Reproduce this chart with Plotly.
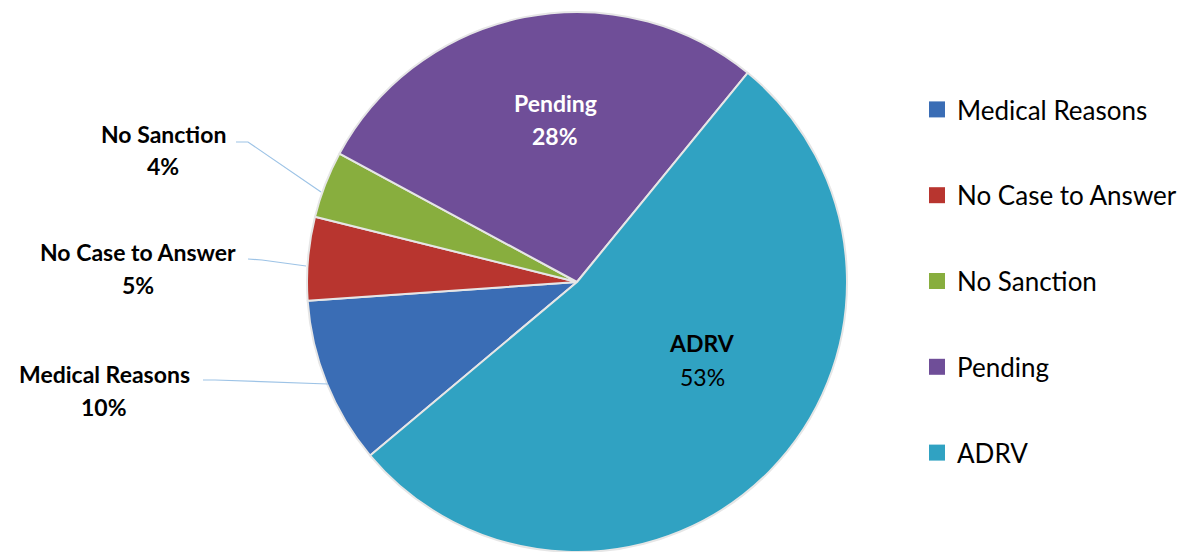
import plotly.graph_objects as go

W, H = 1189, 552

categories = ["Medical Reasons", "No Case to Answer", "No Sanction", "Pending", "ADRV"]
values = [10, 5, 4, 28, 53]
colors = ["#3A6DB5", "#B8352F", "#88AE3E", "#6F4E98", "#30A2C2"]

FONT = "Lato, 'Open Sans', sans-serif"

def px(x):
    return x / W

def py(y):
    return 1 - y / H

cx, cy, r = 577, 282, 270

fig = go.Figure()
fig.add_trace(go.Pie(
    labels=categories, values=values, sort=False, direction="clockwise",
    rotation=230, textinfo="none", hoverinfo="label+percent",
    marker=dict(colors=colors, line=dict(color="#E6E6E6", width=2)),
    domain=dict(x=[px(cx - r), px(cx + r)], y=[py(cy + r), py(cy - r)]),
    showlegend=False,
))

# legend entries
for c, col in zip(categories, colors):
    fig.add_trace(go.Scatter(
        x=[None], y=[None], mode="markers", name=c, legendgroup=c,
        marker=dict(symbol="square", size=16, color=col),
    ))

# label layout (positions in pixels): name-center, name-y, pct-y, color, pct bold
label_pos = {
    "Medical Reasons": (104, 374, 407, "black", True),
    "No Case to Answer": (138, 252, 285, "black", True),
    "No Sanction": (163, 134, 166, "black", True),
    "Pending": (555, 103, 136, "white", True),
    "ADRV": (702, 343, 377, "black", False),
}
total = sum(values)
annotations = []
for c, v in zip(categories, values):
    x, y1, y2, col, pb = label_pos[c]
    annotations.append(dict(x=px(x), y=py(y1), xref="paper", yref="paper",
                            text=f"<b>{c}</b>", showarrow=False,
                            font=dict(family=FONT, size=23, color=col),
                            xanchor="center", yanchor="middle"))
    pct = f"{round(100 * v / total)}%"
    annotations.append(dict(x=px(x), y=py(y2), xref="paper", yref="paper",
                            text=f"<b>{pct}</b>" if pb else pct, showarrow=False,
                            font=dict(family=FONT, size=23, color=col),
                            xanchor="center", yanchor="middle"))

leaders = [
    [(236, 142), (248, 142), (321, 192)],
    [(248, 259), (262, 260), (306, 266)],
    [(203, 380), (215, 380), (328, 384)],
]
shapes = []
for pts in leaders:
    path = "M " + " L ".join(f"{px(a)},{py(b)}" for a, b in pts)
    shapes.append(dict(type="path", xref="paper", yref="paper", path=path,
                       line=dict(color="#9DC3E6", width=1.2)))

fig.update_layout(
    width=W, height=H,
    margin=dict(l=0, r=0, t=0, b=0),
    paper_bgcolor="white", plot_bgcolor="white",
    xaxis=dict(visible=False), yaxis=dict(visible=False),
    annotations=annotations, shapes=shapes,
    legend=dict(x=px(917), y=py(86), xanchor="left", yanchor="top",
                font=dict(family=FONT, size=26, color="black"),
                tracegroupgap=49, bgcolor="rgba(0,0,0,0)"),
    font=dict(family=FONT),
)

fig.write_html("out.html", config={"displayModeBar": False},
               post_script="document.body.style.margin='0';")
